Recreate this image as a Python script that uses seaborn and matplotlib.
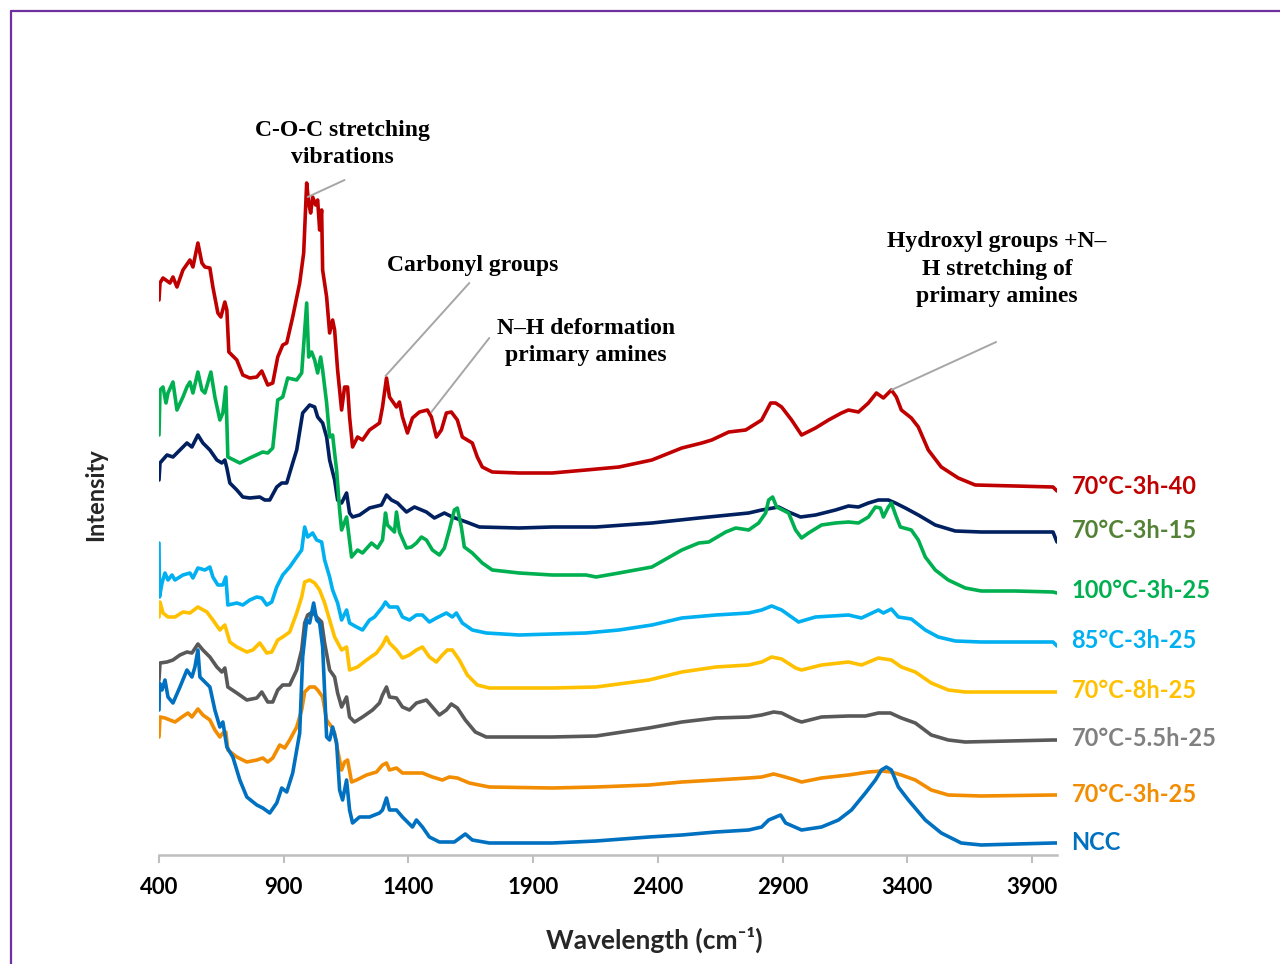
import numpy as np
import pandas as pd
import matplotlib
matplotlib.use("Agg")
import matplotlib.pyplot as plt
from matplotlib.lines import Line2D
import seaborn as sns

# ---------------- FTIR spectra (arbitrary, vertically offset intensities) ----------------
wn_3h40 = [400,404,416,444,456,472,496,524,536,556,572,584,604,616,636,648,664,672,680,712,736,764,792,812,836,856,876,896,912,936,964,980,992,1000,1008,1016,1028,1036,1044,1052,1056,1072,1084,1096,1104,1116,1132,1144,1156,1164,1176,1196,1216,1244,1284,1296,1312,1324,1352,1364,1376,1396,1416,1444,1476,1492,1512,1532,1552,1572,1596,1616,1656,1676,1696,1736,1844,1976,2112,2244,2376,2496,2576,2616,2684,2752,2816,2852,2872,2896,2936,2976,3032,3084,3136,3164,3204,3244,3276,3304,3336,3356,3376,3416,3444,3484,3536,3604,3672,3832,3984,4000]
ab_3h40 = [555,572,577,572,578,568,585,595,588,612,592,588,587,568,542,538,553,545,503,495,480,477,478,484,470,472,498,510,512,538,572,602,672,652,642,658,650,655,625,645,585,558,522,535,525,485,445,468,468,438,408,418,415,425,432,448,477,458,448,453,438,422,437,443,445,438,418,425,442,443,435,418,412,398,388,383,382,382,385,388,395,407,412,415,423,425,435,452,452,448,435,420,427,435,442,445,443,452,462,457,465,458,445,437,428,405,388,377,370,369,368,364]

wn_3h15 = [400,404,432,456,484,512,532,556,576,604,632,652,664,672,684,712,736,764,804,824,844,872,892,912,936,952,976,1004,1024,1036,1056,1072,1084,1104,1116,1132,1152,1164,1176,1204,1244,1292,1312,1332,1356,1392,1424,1472,1504,1544,1576,1632,1684,1844,1976,2152,2376,2564,2764,2816,2884,2924,2972,3032,3112,3164,3204,3244,3284,3324,3352,3392,3444,3512,3592,3696,3984,4000]
ab_3h15 = [375,392,400,398,405,412,408,420,412,405,395,392,395,387,372,365,358,357,358,355,355,368,372,372,392,405,442,450,448,438,432,418,395,375,355,352,362,342,338,340,347,350,360,355,352,343,348,343,337,342,338,333,328,327,328,328,332,337,342,345,348,343,338,340,345,349,348,352,355,355,352,347,340,330,324,323,323,313]

wn_100c = [400,404,416,428,436,456,472,496,512,524,536,556,572,584,608,624,644,656,668,676,724,764,816,836,856,876,896,916,952,972,992,1000,1012,1024,1036,1048,1056,1072,1084,1096,1104,1112,1124,1132,1152,1172,1196,1216,1252,1276,1296,1308,1316,1344,1352,1364,1392,1412,1432,1452,1472,1496,1524,1544,1564,1584,1596,1612,1624,1656,1696,1736,1844,1976,2112,2152,2244,2376,2496,2564,2604,2672,2712,2764,2804,2832,2844,2860,2876,2924,2952,2976,3004,3056,3112,3164,3204,3244,3272,3292,3304,3324,3336,3356,3372,3416,3444,3472,3512,3564,3632,3696,3832,3984,4000]
ab_100c = [420,465,468,452,462,473,445,458,468,473,462,483,465,462,483,458,435,442,468,398,392,397,403,402,407,455,458,477,475,482,552,498,503,495,482,498,485,452,418,420,402,385,345,325,338,298,305,302,312,307,315,342,330,323,343,323,307,308,312,318,315,305,300,307,325,345,347,328,308,302,292,285,282,280,280,278,282,288,305,312,313,323,327,325,332,342,355,358,348,342,325,317,322,330,332,333,332,338,348,347,338,348,352,338,328,325,315,298,285,275,267,264,264,263,262]

wn_85c = [400,402,412,424,436,452,464,496,524,536,556,584,604,616,636,656,668,676,712,736,764,792,812,832,852,872,896,924,952,972,984,996,1016,1032,1052,1064,1084,1096,1116,1132,1152,1164,1192,1216,1244,1264,1296,1308,1324,1356,1376,1404,1432,1456,1484,1512,1552,1576,1592,1616,1656,1712,1844,1976,2112,2244,2376,2496,2632,2764,2816,2856,2896,2964,3032,3164,3216,3284,3304,3336,3364,3416,3472,3524,3592,3696,3984,4000]
ab_85c = [312,258,272,282,275,280,275,280,282,277,287,285,288,278,270,270,278,250,252,250,255,258,257,250,253,268,280,288,298,305,328,318,322,315,313,295,278,265,252,235,245,232,228,225,235,238,248,253,248,248,238,235,240,240,233,237,242,238,242,232,225,222,220,221,222,225,230,237,240,242,245,249,245,233,238,240,237,245,242,246,238,236,225,218,214,213,213,209]

wn_8h = [400,404,416,436,464,496,524,556,592,616,644,664,684,712,752,776,804,832,852,876,896,924,952,972,984,1004,1024,1044,1064,1084,1104,1132,1152,1164,1196,1232,1272,1296,1312,1324,1352,1376,1404,1432,1456,1484,1512,1536,1556,1576,1604,1636,1676,1724,1976,2152,2364,2496,2632,2764,2816,2856,2896,2952,2976,3056,3164,3216,3284,3336,3376,3432,3496,3564,3632,3984,4000]
ab_8h = [238,253,242,238,238,243,242,248,243,235,225,230,213,208,203,205,212,202,203,215,218,223,242,258,273,275,272,265,252,235,218,205,208,185,188,195,202,210,218,212,205,197,200,205,208,198,193,200,205,205,195,180,170,167,167,168,175,183,188,190,193,198,196,187,185,190,193,190,197,195,188,183,172,165,163,163,163]

wn_55h = [400,404,432,456,484,512,532,556,576,604,632,652,664,676,712,752,792,812,836,856,876,896,924,952,972,984,996,1016,1032,1052,1064,1084,1104,1116,1132,1152,1164,1184,1216,1256,1284,1296,1312,1324,1352,1376,1404,1432,1472,1496,1524,1552,1572,1596,1628,1668,1712,1976,2152,2364,2496,2632,2764,2816,2864,2896,2952,2976,3056,3164,3232,3284,3332,3376,3432,3496,3564,3632,3984,4000]
ab_55h = [175,192,193,195,200,203,202,211,205,198,188,183,187,168,162,155,157,163,153,153,165,170,170,185,205,232,240,243,238,233,212,185,178,162,148,158,138,133,138,145,152,160,168,158,157,148,145,152,155,148,140,145,151,147,135,123,118,118,119,127,133,137,138,140,143,142,135,133,138,139,139,142,142,137,132,120,115,113,115,115]

wn_3h25 = [400,404,424,444,464,492,516,532,556,576,604,624,644,656,668,676,712,752,792,816,836,856,884,904,924,952,972,984,1004,1024,1036,1056,1072,1092,1104,1116,1132,1144,1156,1172,1192,1232,1272,1296,1312,1324,1352,1376,1416,1456,1496,1536,1564,1596,1644,1724,1976,2152,2364,2496,2632,2764,2816,2864,2896,2952,2976,3056,3164,3244,3296,3336,3376,3432,3496,3564,3696,3984,4000]
ab_3h25 = [118,138,137,135,133,138,142,138,146,140,135,125,118,122,123,105,98,93,95,97,93,97,110,107,115,128,145,163,168,168,165,158,135,128,122,105,85,93,95,73,75,80,83,90,92,85,87,82,82,82,78,75,78,77,72,68,67,68,70,73,75,77,78,81,79,75,73,77,80,83,84,83,80,75,65,60,59,60,60]

wn_ncc = [400,402,412,424,436,456,484,512,532,544,556,564,576,604,624,644,656,672,696,724,752,792,816,844,872,892,912,936,964,976,992,1004,1020,1032,1044,1056,1072,1084,1096,1112,1124,1136,1152,1164,1176,1204,1244,1284,1296,1312,1324,1352,1376,1416,1432,1456,1484,1524,1584,1628,1656,1724,1976,2152,2364,2496,2632,2764,2816,2844,2892,2912,2976,3056,3124,3176,3232,3272,3296,3316,3336,3364,3404,3472,3536,3616,3696,3984,4000]
ab_ncc = [145,172,165,175,158,152,168,185,178,188,205,178,175,168,145,128,133,108,98,75,58,50,47,42,52,67,63,82,122,198,235,232,252,235,232,208,118,115,128,112,65,55,75,45,32,38,38,42,45,57,45,45,38,28,35,28,18,13,13,21,15,12,12,14,18,20,23,25,28,35,40,32,25,28,35,45,62,75,85,88,85,68,55,35,22,12,10,12,12]

sample_names = ["70°C-3h-40", "70°C-3h-15", "100°C-3h-25", "85°C-3h-25",
                "70°C-8h-25", "70°C-5.5h-25", "70°C-3h-25", "NCC"]
line_colors = ["#C00000", "#002060", "#00B050", "#00B0F0",
               "#FFC000", "#595959", "#F28C00", "#0070C0"]
label_colors = ["#C00000", "#548235", "#00B050", "#00B0F0",
                "#FFC000", "#808080", "#F28C00", "#0070C0"]
x_ticks = [400, 900, 1400, 1900, 2400, 2900, 3400, 3900]

spectra = [(wn_3h40, ab_3h40), (wn_3h15, ab_3h15), (wn_100c, ab_100c), (wn_85c, ab_85c),
           (wn_8h, ab_8h), (wn_55h, ab_55h), (wn_3h25, ab_3h25), (wn_ncc, ab_ncc)]

frames = []
for name, (w, a) in zip(sample_names, spectra):
    frames.append(pd.DataFrame({"wavenumber": w, "intensity": a, "sample": name}))
df = pd.concat(frames, ignore_index=True)

# ---------------- styling ----------------
sns.set_theme(style="white")
plt.rcParams["font.family"] = ["Lato", "DejaVu Sans"]

fig = plt.figure(figsize=(12.8, 9.64), dpi=100)
ax = fig.add_axes([159 / 1280, 109 / 964, 898 / 1280, 840 / 964])

sns.lineplot(data=df, x="wavenumber", y="intensity", hue="sample",
             hue_order=sample_names, palette=line_colors, sort=False,
             estimator=None, linewidth=2.6, legend=False, ax=ax)

ax.set_xlim(400, 4000)
ax.set_ylim(0, 840)
ax.set_xticks(x_ticks)
ax.set_xticklabels([str(t) for t in x_ticks], fontsize=16, fontweight="bold",
                   color="black")
ax.set_yticks([])
for s in ("left", "right", "top"):
    ax.spines[s].set_visible(False)
ax.spines["bottom"].set_color("#BFBFBF")
ax.spines["bottom"].set_linewidth(1.8)
ax.tick_params(axis="x", which="both", bottom=True, length=6, width=1.5,
               color="#BFBFBF", pad=10)

ax.set_xlabel("Wavelength (cm⁻¹)", fontsize=19, fontweight="bold",
              family=["Lato", "DejaVu Sans"])
ax.xaxis.set_label_coords(0.552, -0.085)
ax.xaxis.label.set_va("top")
ax.set_ylabel("Intensity", fontsize=17, fontweight="bold")
ax.yaxis.set_label_coords(-0.058, 0.4286)

# sample names next to the end of each spectrum
for name, (w, a), c in zip(sample_names, spectra, label_colors):
    ax.text(4058, a[-2] + 1, name, color=c, fontsize=17,
            fontweight="bold", ha="left", va="center", clip_on=False)

# band assignments with leader lines
serif = ["Liberation Serif", "DejaVu Serif"]
notes = [
    ("C-O-C stretching\nvibrations", (1136, 711), (1144, 675), (996, 658)),
    ("Carbonyl groups", (1656, 590), (1644, 572), (1308, 479)),
    ("N–H deformation\nprimary amines", (2112, 513), (1724, 517), (1492, 443)),
    ("Hydroxyl groups +N–\nH stretching of\nprimary amines", (3760, 586),
     (3756, 513), (3336, 465)),
]
for txt, tpos, start, end in notes:
    ax.text(tpos[0], tpos[1], txt, family=serif, fontsize=17, fontweight="bold",
            ha="center", va="center", linespacing=1.38, color="black")
    ax.annotate("", xy=end, xytext=start,
                arrowprops=dict(arrowstyle="-", color="#A6A6A6", lw=1.4,
                                shrinkA=0, shrinkB=0))

# page frame lines
frame_col = "#7030A0"
fig.add_artist(Line2D([10.5 / 1280, 10.5 / 1280], [0, 1 - 11 / 964],
                      transform=fig.transFigure, color=frame_col, lw=1.6))
fig.add_artist(Line2D([10.5 / 1280, 1], [1 - 11 / 964, 1 - 11 / 964],
                      transform=fig.transFigure, color=frame_col, lw=1.6))

fig.savefig("out.png", dpi=100, facecolor="white")
